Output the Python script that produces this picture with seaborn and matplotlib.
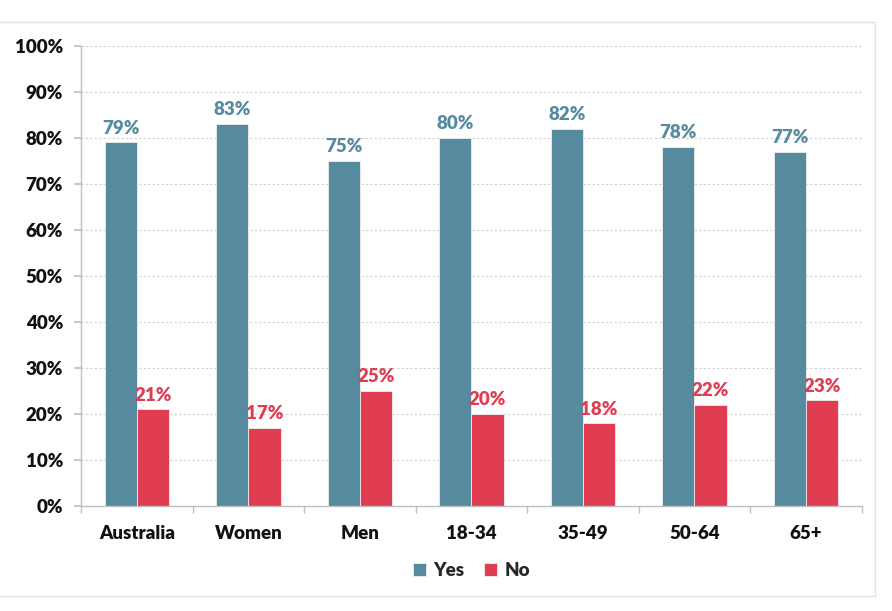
import pandas as pd
import seaborn as sns
import matplotlib.pyplot as plt
from matplotlib.patches import Rectangle
from matplotlib.ticker import FixedLocator, PercentFormatter

categories = ['Australia', 'Women', 'Men', '18-34', '35-49', '50-64', '65+']
yes_values = [79, 83, 75, 80, 82, 78, 77]
no_values = [21, 17, 25, 20, 18, 22, 23]
series = ['Yes', 'No']
colors = {'Yes': '#568A9F', 'No': '#E03C52'}

df = pd.DataFrame({
    'group': categories * 2,
    'answer': ['Yes'] * len(categories) + ['No'] * len(categories),
    'value': yes_values + no_values,
})

sns.set_theme(style='white')
plt.rcParams['font.family'] = ['Lato', 'DejaVu Sans']

fig = plt.figure(figsize=(8.92, 6.11), dpi=100)
ax = fig.add_axes([0.091, 0.172, 0.875, 0.753])

sns.barplot(data=df, x='group', y='value', hue='answer', hue_order=series,
            palette=colors, width=0.58, saturation=1, ax=ax, legend=True,
            edgecolor='#EEEEEE', linewidth=0.6)

for cont, name in zip(ax.containers, series):
    ax.bar_label(cont, fmt='%d%%', padding=4, color=colors[name],
                 fontsize=13.5, fontweight='heavy')

ax.set_ylim(0, 100)
ax.set_xlim(-0.5, len(categories) - 0.5)
ax.yaxis.set_major_locator(FixedLocator(range(0, 101, 10)))
ax.yaxis.set_major_formatter(PercentFormatter(decimals=0))
ax.set_xlabel('')
ax.set_ylabel('')
ax.grid(axis='y', color='#D0D0D0', linestyle=(0, (2, 2)), linewidth=0.8)
ax.set_axisbelow(True)

for side in ['top', 'right']:
    ax.spines[side].set_visible(False)
for side in ['left', 'bottom']:
    ax.spines[side].set_color('#BFBFBF')
    ax.spines[side].set_linewidth(1)

ax.xaxis.set_minor_locator(FixedLocator([i - 0.5 for i in range(len(categories) + 1)]))
ax.tick_params(axis='x', which='major', length=0, pad=14)
ax.tick_params(axis='x', which='minor', length=5, color='#BFBFBF', direction='out', bottom=True)
ax.tick_params(axis='y', length=5, color='#BFBFBF', direction='out', left=True, pad=8)
for lab in ax.get_xticklabels() + ax.get_yticklabels():
    lab.set_fontsize(13.5)
    lab.set_fontweight('heavy')
    lab.set_color('#111111')

leg = ax.legend(loc='upper center', bbox_to_anchor=(0.5, -0.085), ncol=2, frameon=False,
                handlelength=0.7, handleheight=0.7, handletextpad=0.4, columnspacing=1.0,
                prop={'size': 13.5, 'weight': 'heavy'})

fig.patches.append(Rectangle((-0.01, 0.025), 0.991, 0.939, transform=fig.transFigure,
                             fill=False, edgecolor='#E3E3E3', linewidth=1))

fig.savefig('out.png', dpi=100)
